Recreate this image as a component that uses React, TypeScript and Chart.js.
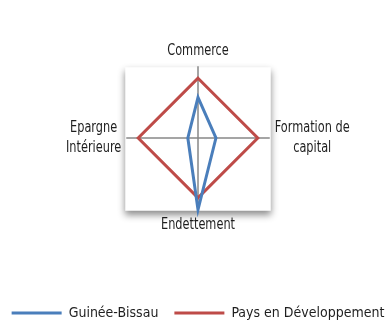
import { useEffect, useRef } from 'react';
import { Chart, registerables } from 'chart.js';

Chart.register(...registerables);

// ---- data ----
const axisLabels: string[][] = [['Commerce'], ['Formation de', 'capital'], ['Endettement'], ['Epargne', 'Intérieure']];
const seriesNames = ['Guinée-Bissau', 'Pays en Développement'];
const guineeBissau = [3.4, 1.5, 6, 0.85];
const paysEnDeveloppement = [5, 5, 5, 5];
const scaleMin = 0;
const scaleMax = 6;

const FONT = '"DejaVu Sans Condensed", "Liberation Sans Narrow", sans-serif';
const LABEL_SIZE = 15;
const LABEL_LH = 1.35;
const LABEL_SQUEEZE = 0.84;

const plotBoxPlugin = {
  id: 'plotBox',
  beforeDraw(chart: any) {
    const r = chart.scales.r;
    if (!r) return;
    const ctx = chart.ctx;
    const R = r.drawingArea;
    ctx.save();
    ctx.shadowColor = 'rgba(0,0,0,0.45)';
    ctx.shadowBlur = 7;
    ctx.shadowOffsetY = 4;
    ctx.fillStyle = '#ffffff';
    ctx.fillRect(r.xCenter - R - 1, r.yCenter - R + 1, 2 * R + 2, 2 * R);
    ctx.restore();
  },
};

const centeredLabelsPlugin = {
  id: 'centeredLabels',
  afterDraw(chart: any) {
    const r = chart.scales.r;
    const items = r && r._pointLabelItems;
    if (!items) return;
    const ctx = chart.ctx;
    const lh = LABEL_SIZE * LABEL_LH;
    ctx.save();
    ctx.font = `${LABEL_SIZE}px ${FONT}`;
    ctx.fillStyle = '#1e1e1e';
    ctx.textAlign = 'center';
    ctx.textBaseline = 'middle';
    items.forEach((it: any, i: number) => {
      const lines = r._pointLabels[i];
      const arr: string[] = Array.isArray(lines) ? lines : [lines];
      const maxW = Math.max(...arr.map((l) => ctx.measureText(l).width)) * LABEL_SQUEEZE;
      let cx = (it.left + it.right) / 2;
      if (it.textAlign === 'left') cx = it.left + maxW / 2;
      else if (it.textAlign === 'right') cx = it.right - maxW / 2;
      arr.forEach((line, j) => {
        ctx.save();
        ctx.translate(cx, it.top + lh * (j + 0.5));
        ctx.scale(LABEL_SQUEEZE, 1);
        ctx.fillText(line, 0, 0);
        ctx.restore();
      });
    });
    ctx.restore();
  },
};

export default function App() {
  const canvasRef = useRef<HTMLCanvasElement | null>(null);

  useEffect(() => {
    const canvas = canvasRef.current;
    if (!canvas) return;
    const chart = new Chart(canvas, {
      type: 'radar',
      data: {
        labels: axisLabels,
        datasets: [
          {
            label: seriesNames[0],
            data: guineeBissau,
            borderColor: '#4a7ebb',
            backgroundColor: '#4a7ebb',
            borderWidth: 3,
            pointRadius: 0,
            fill: false,
            tension: 0,
          },
          {
            label: seriesNames[1],
            data: paysEnDeveloppement,
            borderColor: '#be4b48',
            backgroundColor: '#be4b48',
            borderWidth: 3,
            pointRadius: 0,
            fill: false,
            tension: 0,
          },
        ],
      },
      options: {
        animation: false,
        responsive: true,
        maintainAspectRatio: false,
        layout: { padding: { top: 41, left: 0, right: 0, bottom: 0 } },
        scales: {
          r: {
            min: scaleMin,
            max: scaleMax,
            ticks: { display: false },
            grid: { display: false },
            angleLines: { display: true, color: '#878787', lineWidth: 1.5 },
            pointLabels: {
              display: true,
              color: 'rgba(0,0,0,0)',
              padding: 5,
              font: { family: FONT, size: LABEL_SIZE, lineHeight: LABEL_LH },
            },
          },
        },
        plugins: {
          tooltip: { enabled: false },
          title: {
            display: true,
            position: 'bottom',
            text: '',
            weight: 500,
            font: { size: 10, lineHeight: 1 },
            padding: { top: 22, bottom: 23 },
          },
          legend: {
            display: true,
            position: 'bottom',
            labels: {
              usePointStyle: true,
              pointStyle: 'line',
              pointStyleWidth: 50,
              boxHeight: 3,
              padding: 16,
              color: '#1e1e1e',
              font: { family: FONT, size: 14 },
            },
          },
        },
      },
      plugins: [plotBoxPlugin, centeredLabelsPlugin],
    } as any);
    return () => chart.destroy();
  }, []);

  return (
    <div style={{ position: 'fixed', left: 0, top: 0, width: 387, height: 320, overflow: 'hidden', background: '#fff' }}>
      <div style={{ position: 'absolute', left: -30, top: 0, width: 456, height: 330 }}>
        <canvas ref={canvasRef} />
      </div>
    </div>
  );
}
